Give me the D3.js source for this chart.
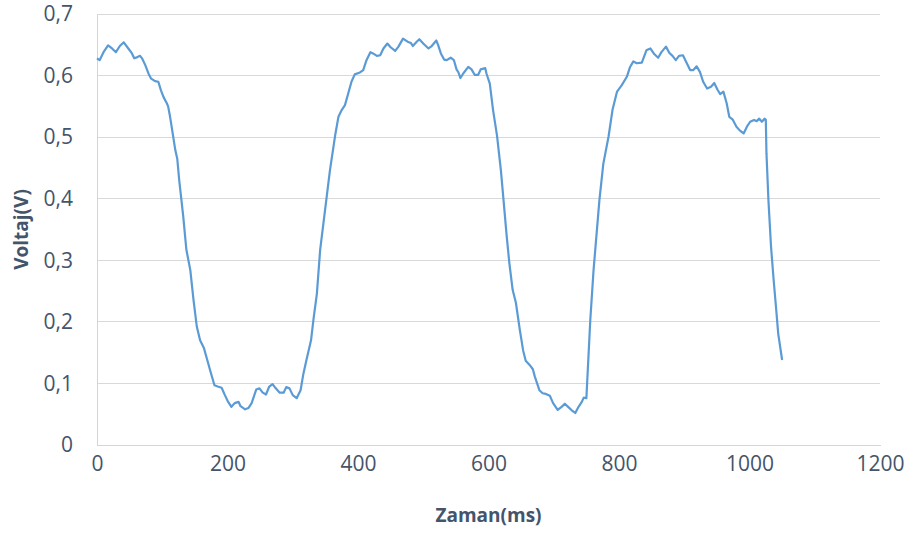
<!DOCTYPE html>
<html>
<head>
<meta charset="utf-8">
<script src="https://cdn.jsdelivr.net/npm/d3@7"></script>
<style>
  html, body { margin: 0; padding: 0; background: #fff; }
  svg { display: block; }
</style>
</head>
<body>
<svg id="chart" width="913" height="533"></svg>
<script>
// ---- data ----
const timeMs = [0,4,10,17,23,29,35,41,48,53,57,62,66,69,74,79,83,89,94,98,102,107,109,112,116,120,123,126,132,137,143,148,153,158,164,169,174,180,185,191,196,201,206,211,217,220,227,232,237,244,249,254,259,264,269,274,280,286,290,295,300,306,312,316,321,328,332,337,342,357,365,370,375,380,385,390,395,403,408,413,419,423,429,434,439,445,450,457,462,469,476,481,484,490,494,500,508,513,520,523,527,532,536,542,547,551,554,557,561,569,574,579,584,588,595,597,602,607,613,619,623,628,632,637,642,648,653,657,663,668,671,678,683,688,694,699,706,712,717,722,728,733,738,743,746,750,756,761,770,776,784,790,797,804,812,817,822,827,835,842,848,854,860,865,872,877,882,887,892,898,903,909,914,919,924,929,935,941,946,951,955,960,965,969,974,980,985,991,996,1001,1007,1011,1015,1019,1023,1025,1026,1029,1033,1037,1041,1044,1050];
const voltage = [0.628,0.625,0.638,0.649,0.644,0.638,0.648,0.654,0.644,0.637,0.628,0.630,0.632,0.628,0.617,0.603,0.595,0.591,0.590,0.576,0.565,0.555,0.550,0.533,0.506,0.479,0.465,0.430,0.373,0.317,0.284,0.235,0.192,0.170,0.157,0.138,0.119,0.097,0.095,0.093,0.081,0.070,0.062,0.068,0.070,0.063,0.058,0.060,0.068,0.090,0.092,0.085,0.082,0.095,0.099,0.092,0.085,0.085,0.094,0.092,0.081,0.076,0.089,0.114,0.138,0.170,0.206,0.246,0.317,0.446,0.503,0.533,0.544,0.552,0.571,0.590,0.602,0.605,0.609,0.625,0.638,0.636,0.632,0.633,0.644,0.652,0.646,0.640,0.647,0.660,0.655,0.653,0.648,0.655,0.659,0.652,0.644,0.648,0.657,0.649,0.636,0.626,0.625,0.629,0.625,0.610,0.605,0.596,0.603,0.614,0.610,0.601,0.601,0.610,0.612,0.603,0.587,0.544,0.503,0.446,0.398,0.338,0.295,0.252,0.231,0.187,0.154,0.137,0.130,0.123,0.111,0.089,0.084,0.083,0.080,0.068,0.057,0.062,0.067,0.062,0.056,0.052,0.062,0.070,0.077,0.076,0.203,0.284,0.398,0.457,0.501,0.544,0.574,0.584,0.598,0.614,0.623,0.620,0.621,0.641,0.644,0.635,0.629,0.638,0.647,0.637,0.632,0.625,0.632,0.633,0.622,0.609,0.609,0.615,0.606,0.590,0.579,0.582,0.588,0.577,0.570,0.574,0.555,0.533,0.529,0.517,0.511,0.506,0.517,0.525,0.528,0.526,0.530,0.525,0.530,0.528,0.474,0.398,0.322,0.268,0.219,0.181,0.138];
const xTicks = [0,200,400,600,800,1000,1200];
const yTicks = [0,0.1,0.2,0.3,0.4,0.5,0.6,0.7];
const xTitle = "Zaman(ms)";
const yTitle = "Voltaj(V)";

// ---- layout ----
const svg = d3.select("#chart");
const margin = {left: 97, right: 33, top: 14, bottom: 88};
const W = 913, H = 533;
const x = d3.scaleLinear().domain([0, 1200]).range([margin.left, W - margin.right]);
const y = d3.scaleLinear().domain([0, 0.7]).range([H - margin.bottom, margin.top]);

const fmt = v => d3.format(".1f")(v).replace(".", ",");
const textColor = "#44546A";
const font = "'Open Sans', 'Liberation Sans', sans-serif";

// gridlines
svg.append("g")
  .selectAll("line").data(yTicks.filter(d => d > 0)).join("line")
  .attr("x1", x(0)).attr("x2", x(1200))
  .attr("y1", d => y(d)).attr("y2", d => y(d))
  .attr("stroke", "#D9D9D9").attr("stroke-width", 1)
  .attr("shape-rendering", "crispEdges");

// y axis
const yAxis = d3.axisLeft(y).tickValues(yTicks).tickFormat(d => d === 0 ? "0" : fmt(d)).tickSize(0).tickPadding(24);
const gy = svg.append("g").attr("transform", `translate(${x(0)},0)`).call(yAxis);
gy.select(".domain").attr("stroke", "#D0D6DE").attr("shape-rendering", "crispEdges");
gy.selectAll("text").attr("fill", textColor).style("font-family", font).style("font-size", "21px");

// x axis
const xAxis = d3.axisBottom(x).tickValues(xTicks).tickFormat(d3.format("d")).tickSize(0).tickPadding(11);
const gx = svg.append("g").attr("transform", `translate(0,${y(0)})`).call(xAxis);
gx.select(".domain").attr("stroke", "#D0D6DE").attr("shape-rendering", "crispEdges");
gx.selectAll("text").attr("fill", textColor).style("font-family", font).style("font-size", "21px");

// line
const line = d3.line().x((d, i) => x(timeMs[i])).y(d => y(d));
svg.append("path")
  .datum(voltage)
  .attr("d", line)
  .attr("fill", "none")
  .attr("stroke", "#5B9BD5")
  .attr("stroke-width", 2.2)
  .attr("stroke-linejoin", "round");

// axis titles
svg.append("text")
  .attr("x", (x(0) + x(1200)) / 2).attr("y", 522)
  .attr("text-anchor", "middle")
  .attr("fill", textColor)
  .style("font-family", font).style("font-size", "19px").style("font-weight", "bold")
  .text(xTitle);

svg.append("text")
  .attr("transform", `translate(28,${(y(0) + y(0.7)) / 2}) rotate(-90)`)
  .attr("text-anchor", "middle")
  .attr("fill", textColor)
  .style("font-family", font).style("font-size", "19px").style("font-weight", "bold")
  .text(yTitle);
</script>
</body>
</html>
